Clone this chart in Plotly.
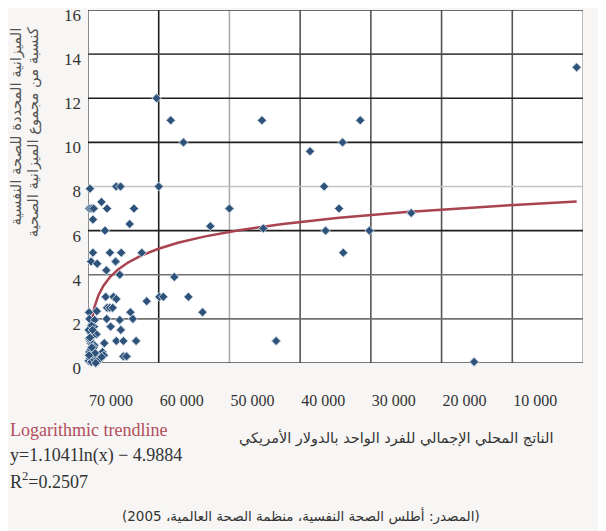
import numpy as np
import plotly.graph_objects as go

# GDP per capita (USD) and mental-health budget share (%)
gdp = [
    9700, 11700, 13500, 24600, 31400, 10000, 20000, 17300, 24800, 7600,
    12200, 8300, 10100, 10650, 14200, 16200, 26600, 38500, 36000, 33400,
    35500, 45700, 33600, 39800, 36100, 54600, 69100,
    280, 4000, 4600, 1900, 200, 500, 800, 2700, 6500, 700, 5900, 2400,
    700, 3100, 4700, 450, 1300, 3900, 2600, 4500,
    2500, 3600, 4000, 2700, 3100, 3500, 6000, 150, 1250, 200, 2650, 6350,
    950, 850, 3200, 4650, 400, 1200, 600, 4000, 5000, 6800, 2300, 400, 900,
    2050, 2250, 5000, 5450,
    100, 300, 500, 700, 900, 1200, 1500, 200, 400, 600, 800, 1000, 300,
    100, 500, 200, 1700, 1100, 150, 650, 520, 1940, 280, 4500,
]
budget = [
    12.0, 11.0, 10.0, 11.0, 9.6, 8.0, 7.0, 6.2, 6.1, 5.0,
    3.9, 2.8, 3.0, 3.0, 3.0, 2.3, 1.0, 11.0, 10.0, 8.0,
    7.0, 6.8, 6.0, 6.0, 5.0, 0.05, 13.4,
    7.9, 8.0, 8.0, 7.3, 7.0, 7.0, 7.0, 7.0, 7.0, 6.5, 6.3, 6.0,
    5.0, 5.0, 5.0, 4.6, 4.5, 4.6, 4.2, 4.0,
    3.0, 3.0, 2.9, 2.5, 2.5, 2.5, 2.3, 2.3, 2.35, 2.0, 2.0, 2.0,
    1.95, 1.65, 1.65, 1.5, 1.35, 1.3, 1.2, 1.0, 1.0, 1.0, 0.9, 0.9, 0.8,
    0.5, 0.35, 0.3, 0.3,
    0.1, 0.2, 0.05, 0.3, 0.15, 0.25, 0.1, 0.5, 0.6, 0.4, 0.7, 0.45, 1.0,
    1.5, 1.7, 1.1, 0.2, 0.0, 0.35, 1.5, 0.7, 0.27, 1.15, 1.95,
]

# Logarithmic trendline coefficients (from the chart)
trend_a = 1.1041
trend_b = -4.9884
trend_x_min = 200

x_tick_values = [0, 10000, 20000, 30000, 40000, 50000, 60000, 70000]
x_tick_labels = ["70 000", "60 000", "50 000", "40 000", "30 000", "20 000", "10 000", "0"]
y_tick_values = [0, 2, 4, 6, 8, 10, 12, 14, 16]
y_tick_labels = ["0", "2", "4", "6", "8", "10", "12", "14", "16"]

x_grid_colors = ["#8c8c8c", "#1e1e1e", "#adadad", "#555555", "#555555", "#555555", "#555555", "#bcbcbc"]
y_grid_colors = ["#4a4a4a", "#707070", "#707070", "#1e1e1e", "#c4c4c4", "#1e1e1e", "#1e1e1e", "#4a4a4a", "#3a3a3a"]

trend_x = np.geomspace(trend_x_min, max(gdp), 300)
trend_y = trend_a * np.log(trend_x) + trend_b

fig = go.Figure()
fig.add_trace(go.Scatter(
    x=trend_x, y=trend_y, mode="lines",
    line=dict(color="#a8434f", width=2.5), hoverinfo="skip", showlegend=False,
))
fig.add_trace(go.Scatter(
    x=gdp, y=budget, mode="markers",
    marker=dict(symbol="diamond", size=7, color="#2e5279",
                line=dict(color="#c9d6e3", width=1)),
    showlegend=False, cliponaxis=False,
))

shapes = []
for v, c in zip(x_tick_values, x_grid_colors):
    shapes.append(dict(type="line", xref="x", yref="paper", x0=v, x1=v, y0=0, y1=1,
                       line=dict(color=c, width=2 if v in (0, 70000) else 1.6), layer="below"))
for v, c in zip(y_tick_values, y_grid_colors):
    shapes.append(dict(type="line", xref="paper", yref="y", x0=0, x1=1, y0=v, y1=v,
                       line=dict(color=c, width=1.6), layer="below"))

serif = "Liberation Serif, Times New Roman, serif"
arabic = "DejaVu Sans, Noto Sans, sans-serif"

annotations = [
    dict(text="الميزانية المحددة للصحة النفسية",
         xref="paper", yref="paper", x=-0.145, y=0.957, xanchor="center", yanchor="top",
         textangle=-90, showarrow=False,
         font=dict(family=arabic, size=14.7, color="#555555")),
    dict(text="كنسبة من مجموع الميزانية الصحية",
         xref="paper", yref="paper", x=-0.111, y=0.957, xanchor="center", yanchor="top",
         textangle=-90, showarrow=False,
         font=dict(family=arabic, size=14.7, color="#555555")),
    dict(text="الناتج المحلي الإجمالي للفرد الواحد بالدولار الأمريكي",
         xref="paper", yref="paper", x=0.622, y=-0.2125, xanchor="center", yanchor="middle",
         showarrow=False, font=dict(family=arabic, size=14.5, color="#333333")),
    dict(text="(المصدر: أطلس الصحة النفسية، منظمة الصحة العالمية، 2005)",
         xref="paper", yref="paper", x=0.430, y=-0.434, xanchor="center", yanchor="middle",
         showarrow=False, font=dict(family=arabic, size=13.5, color="#333333")),
    dict(text="Logarithmic trendline",
         xref="paper", yref="paper", x=-0.1616, y=-0.19, xanchor="left", yanchor="middle",
         showarrow=False, font=dict(family=serif, size=18, color="#b24e5c")),
    dict(text="y=1.1041ln(x) − 4.9884",
         xref="paper", yref="paper", x=-0.1616, y=-0.263, xanchor="left", yanchor="middle",
         showarrow=False, font=dict(family=serif, size=18, color="#333333")),
    dict(text="R<sup>2</sup>=0.2507",
         xref="paper", yref="paper", x=-0.1616, y=-0.334, xanchor="left", yanchor="middle",
         showarrow=False, font=dict(family=serif, size=18, color="#333333")),
]

# The page body adds an 8px offset, so margins are reduced by 8px on top/left.
fig.update_layout(
    width=606, height=531, autosize=False,
    margin=dict(l=80, r=31, t=2, b=176, autoexpand=False),
    paper_bgcolor="#f7f6f4", plot_bgcolor="#ffffff",
    shapes=shapes, annotations=annotations,
    xaxis=dict(range=[0, 70000], tickmode="array", tickvals=x_tick_values, ticktext=x_tick_labels,
               showgrid=False, zeroline=False, showline=False, ticks="", automargin=False,
               ticklabelshift=23, ticklabelstandoff=26, ticklabeloverflow="allow",
               tickfont=dict(family=serif, size=16, color="#333333")),
    yaxis=dict(range=[0, 16], tickmode="array", tickvals=y_tick_values, ticktext=y_tick_labels,
               showgrid=False, zeroline=False, showline=False, ticks="", automargin=False,
               ticklabelshift=5, ticklabelstandoff=6, ticklabeloverflow="allow",
               tickfont=dict(family=serif, size=17, color="#333333")),
)

fig.write_html("out.html")
